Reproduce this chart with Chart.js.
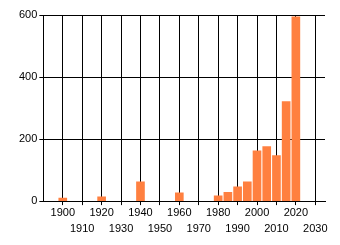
<!DOCTYPE html>
<html>
<head>
<meta charset="utf-8">
<script src="https://cdn.jsdelivr.net/npm/chart.js@4"></script>
<style>
  html, body { margin: 0; padding: 0; background: #fff; }
  #wrap { width: 340px; height: 245px; }
</style>
</head>
<body>
<div id="wrap"><canvas id="grafico"></canvas></div>
<script>
// datos
const years = [1900, 1920, 1940, 1960, 1980, 1985, 1990, 1995, 2000, 2005, 2010, 2015, 2020];
const counts = [10, 14, 62, 27, 17, 28, 46, 62, 162, 176, 147, 321, 594];
const tickYears = [1900, 1910, 1920, 1930, 1940, 1950, 1960, 1970, 1980, 1990, 2000, 2010, 2020, 2030];
const yTicks = [0, 200, 400, 600];

const fuente = { family: "'Liberation Sans', Arial, sans-serif", size: 11, lineHeight: 1.45 };

const ctx = document.getElementById('grafico').getContext('2d');
const grafico = new Chart(ctx, {
    type: 'bar',
    data: {
        datasets: [{
            data: years.map((y, i) => ({ x: y, y: counts[i] })),
            backgroundColor: 'rgb(255, 128, 64)',
            borderWidth: 0,
            barThickness: 8
        }]
    },
    options: {
        responsive: true,
        maintainAspectRatio: false,
        animation: false,
        layout: { padding: { left: 17, right: 15, top: 15, bottom: 8 } },
        plugins: { legend: { display: false }, tooltip: { enabled: false } },
        scales: {
            x: {
                type: 'linear',
                offset: false,
                min: 1890,
                max: 2035,
                afterBuildTicks: axis => { axis.ticks = tickYears.map(v => ({ value: v })); },
                grid: { color: '#000', lineWidth: 1, tickLength: 4, offset: false },
                border: { color: '#000', width: 1 },
                ticks: {
                    autoSkip: false,
                    maxRotation: 0,
                    padding: 0,
                    color: '#000',
                    font: fuente,
                    // las decadas impares van en la segunda fila
                    callback: v => (Math.round(v / 10) % 2 === 0) ? ['' + v] : ['', '' + v]
                }
            },
            y: {
                min: 0,
                max: 600,
                afterBuildTicks: axis => { axis.ticks = yTicks.map(v => ({ value: v })); },
                grid: { color: '#000', lineWidth: 1, tickLength: 4 },
                border: { color: '#000', width: 1 },
                ticks: { padding: 2, color: '#000', font: fuente }
            }
        }
    }
});
</script>
</body>
</html>
